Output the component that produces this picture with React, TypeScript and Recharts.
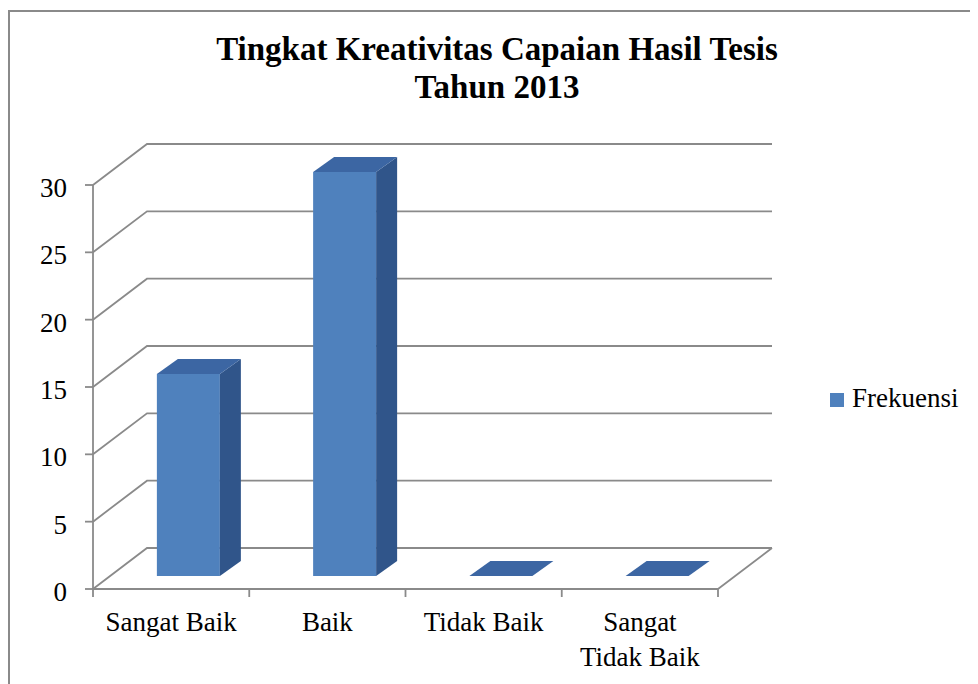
import React from 'react';
import { BarChart, Bar, XAxis, YAxis, CartesianGrid, Legend } from 'recharts';

const categories = ['Sangat Baik', 'Baik', 'Tidak Baik', 'Sangat Tidak Baik'];
const frekuensi = [15, 30, 0, 0];
const yTicks = [0, 5, 10, 15, 20, 25, 30];
const seriesName = 'Frekuensi';
const titleLines = ['Tingkat Kreativitas Capaian Hasil Tesis', 'Tahun 2013'];

const data = categories.map((c, i) => ({ name: c, value: frekuensi[i] }));

const W = 970;
const H = 676;
const MARGIN = { top: 177, right: 260, bottom: 35, left: 25 };
const Y_AXIS_W = 60;
const X_AXIS_H = 60;
const PLOT_LEFT = MARGIN.left + Y_AXIS_W;
const PLOT_RIGHT = W - MARGIN.right;
const PLOT_BOTTOM = H - MARGIN.bottom - X_AXIS_H;
const HALF_BAND = (PLOT_RIGHT - PLOT_LEFT) / categories.length / 2;
const MAX_LINE_CHARS = 11;

// perspective offsets
const WALL_DX = 54;
const WALL_DY = 41;
const BAR_SHIFT_X = 17;
const BAR_SHIFT_Y = 13;
const BAR_DX = 21;
const BAR_DY = 15;

const GRID = '#8a8a8a';
const FONT = '"Liberation Serif", "Times New Roman", serif';
const FRONT = '#4F81BD';
const TOP = '#3C66A3';
const SIDE = '#30558A';

const wrap = (s: string) => {
  const words = String(s).split(' ');
  const lines: string[] = [];
  let cur = '';
  words.forEach((w) => {
    const next = cur ? cur + ' ' + w : w;
    if (cur && next.length > MAX_LINE_CHARS) {
      lines.push(cur);
      cur = w;
    } else {
      cur = next;
    }
  });
  if (cur) lines.push(cur);
  return lines;
};

const gridLine = (p: any) => {
  const { x1, x2, y1 } = p;
  let d = `M${x1},${y1} L${x1 + WALL_DX},${y1 - WALL_DY} L${x2 + WALL_DX},${y1 - WALL_DY}`;
  if (Math.abs(y1 - PLOT_BOTTOM) < 1) {
    d += ` M${x2},${y1} L${x2 + WALL_DX},${y1 - WALL_DY}`;
  }
  return <path key={p.key} d={d} stroke={GRID} strokeWidth={1.8} fill="none" />;
};

const Bar3D = (p: any) => {
  const { x, y, width, height } = p;
  const fx = x + BAR_SHIFT_X;
  const fy = y - BAR_SHIFT_Y;
  const h = Math.max(0, height);
  const top = `${fx},${fy} ${fx + BAR_DX},${fy - BAR_DY} ${fx + width + BAR_DX},${fy - BAR_DY} ${fx + width},${fy}`;
  const side = `${fx + width},${fy} ${fx + width + BAR_DX},${fy - BAR_DY} ${fx + width + BAR_DX},${fy + h - BAR_DY} ${fx + width},${fy + h}`;
  return (
    <g>
      {h > 0 && <rect x={fx} y={fy} width={width} height={h} fill={FRONT} />}
      {h > 0 && <polygon points={side} fill={SIDE} />}
      <polygon points={top} fill={TOP} />
    </g>
  );
};

const YTick = (p: any) => {
  const { x, y, payload } = p;
  return (
    <text x={x} y={y + 12} textAnchor="end" fontFamily={FONT} fontSize={27} fill="#000">
      {payload.value}
    </text>
  );
};

const XTick = (p: any) => {
  const { x, y, payload, index } = p;
  const lines = wrap(payload.value);
  return (
    <g>
      <line x1={x - HALF_BAND} y1={y} x2={x - HALF_BAND} y2={y + 8} stroke={GRID} strokeWidth={1.8} />
      {index === categories.length - 1 && (
        <line x1={x + HALF_BAND} y1={y} x2={x + HALF_BAND} y2={y + 8} stroke={GRID} strokeWidth={1.8} />
      )}
      <text x={x} y={y + 42} textAnchor="middle" fontFamily={FONT} fontSize={27} fill="#000">
        {lines.map((l, i) => (
          <tspan key={i} x={x} dy={i === 0 ? 0 : 35}>
            {l}
          </tspan>
        ))}
      </text>
    </g>
  );
};

const LegendContent = (p: any) => {
  const item = (p.payload && p.payload[0]) || { value: seriesName, color: FRONT };
  return (
    <div style={{ position: 'relative', width: 150, height: 30 }}>
      <div style={{ position: 'absolute', left: 0, top: 10, width: 14, height: 14, background: item.color || FRONT }} />
      <span
        style={{
          position: 'absolute',
          left: 22,
          top: 0,
          lineHeight: '30px',
          fontFamily: FONT,
          fontSize: 27,
          color: '#000',
          whiteSpace: 'nowrap',
        }}
      >
        {item.value}
      </span>
    </div>
  );
};

export default function App() {
  return (
    <div style={{ position: 'relative', width: W, height: H, background: '#fff' }}>
      <div
        style={{
          position: 'absolute',
          left: 0,
          top: 2,
          width: W,
          height: H,
          borderLeft: `2px solid ${GRID}`,
          borderTop: `2px solid ${GRID}`,
          boxSizing: 'border-box',
        }}
      />
      <div
        style={{
          position: 'absolute',
          left: 89,
          top: 22,
          width: 800,
          textAlign: 'center',
          fontFamily: FONT,
          fontWeight: 'bold',
          fontSize: 33,
          lineHeight: '38px',
          color: '#000',
        }}
      >
        {titleLines.map((t) => (
          <div key={t}>{t}</div>
        ))}
      </div>
      <div style={{ position: 'absolute', left: 0, top: 0 }}>
        <BarChart width={W} height={H} data={data} margin={MARGIN} barCategoryGap="30%">
          <CartesianGrid vertical={false} horizontal={gridLine} />
          <XAxis
            dataKey="name"
            height={X_AXIS_H}
            interval={0}
            tickLine={false}
            tickSize={0}
            tickMargin={0}
            axisLine={{ stroke: GRID, strokeWidth: 1.8 }}
            tick={XTick}
          />
          <YAxis
            type="number"
            domain={[0, 30]}
            ticks={yTicks}
            interval={0}
            width={Y_AXIS_W}
            tickSize={8}
            tickMargin={18}
            axisLine={{ stroke: GRID, strokeWidth: 1.8 }}
            tickLine={{ stroke: GRID, strokeWidth: 1.8 }}
            tick={YTick}
          />
          <Legend
            layout="vertical"
            align="center"
            verticalAlign="middle"
            content={LegendContent}
            wrapperStyle={{ left: 822, top: 375, width: 150 }}
          />
          <Bar dataKey="value" name={seriesName} fill={FRONT} shape={Bar3D} isAnimationActive={false} />
        </BarChart>
      </div>
    </div>
  );
}
